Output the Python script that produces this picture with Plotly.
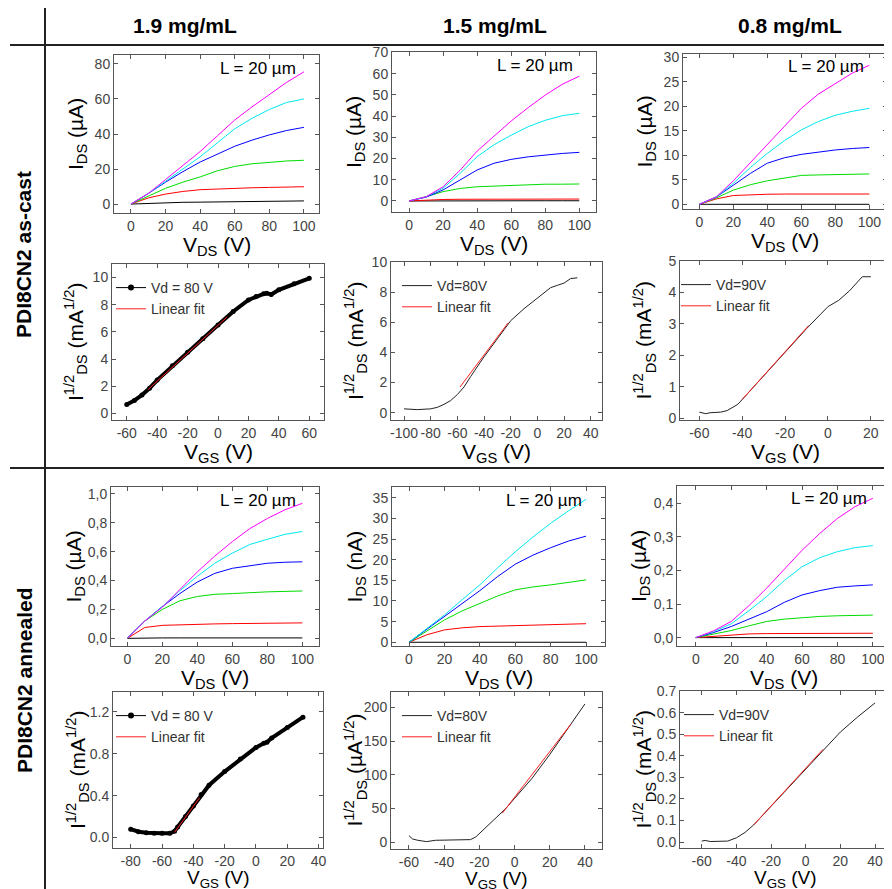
import plotly.graph_objects as go

W, H = 892, 889
OFF = 8  # default page margin of the browser body
FW, FH = W - OFF, H - OFF
FONT = "Arial, 'Liberation Sans', sans-serif"

# ------------------------------------------------------------------ data
col_titles = ["1.9 mg/mL", "1.5 mg/mL", "0.8 mg/mL"]
row_titles = ["PDI8CN2 as-cast", "PDI8CN2 annealed"]
curve_colors_names = ["black", "red", "green", "blue", "cyan", "magenta"]

vds = [0, 10, 20, 30, 40, 50, 60, 70, 80, 90, 100]

# as-cast, 1.9 mg/mL  (uA)
ac19_black = [0, 0.4, 0.8, 1.0, 1.1, 1.2, 1.3, 1.4, 1.5, 1.6, 1.8]
ac19_red = [0, 3.5, 5.7, 7.2, 8.2, 8.7, 9.0, 9.3, 9.5, 9.7, 9.9]
ac19_green = [0, 4.5, 9.0, 12.5, 15.5, 19.0, 21.5, 23.0, 24.0, 24.6, 25.0]
ac19_blue = [0, 6.0, 12.5, 18.5, 24.0, 28.5, 33.0, 36.5, 39.5, 42.0, 43.8]
ac19_cyan = [0, 6.0, 13.0, 20.0, 27.0, 35.0, 43.0, 49.0, 54.0, 58.0, 60.0]
ac19_magenta = [0, 6.0, 14.0, 22.0, 30.0, 39.0, 48.0, 55.5, 62.7, 69.5, 75.5]

# as-cast, 1.5 mg/mL  (uA)
ac15_black = [0, 0.05, 0.1, 0.1, 0.1, 0.1, 0.1, 0.1, 0.1, 0.1, 0.1]
ac15_red = [0, 0.5, 0.7, 0.8, 0.85, 0.85, 0.9, 0.9, 0.9, 0.9, 0.9]
ac15_green = [0, 2.0, 4.4, 5.9, 6.7, 7.0, 7.3, 7.8, 7.9, 7.9, 8.0]
ac15_blue = [0, 1.8, 5.2, 10.0, 14.6, 17.8, 19.6, 20.8, 21.7, 22.4, 22.9]
ac15_cyan = [0, 2.0, 6.0, 13.0, 20.9, 26.5, 31.0, 35.0, 38.0, 40.2, 41.3]
ac15_magenta = [0, 2.0, 6.7, 14.5, 23.5, 30.8, 37.7, 44.0, 49.9, 55.0, 58.8]

# as-cast, 0.8 mg/mL  (uA)
ac08_black = [0, 0, 0, 0, 0, 0, 0, 0, 0, 0, 0]
ac08_red = [0, 1.1, 1.8, 2.0, 2.05, 2.1, 2.1, 2.1, 2.1, 2.1, 2.1]
ac08_green = [0, 1.3, 2.9, 4.0, 4.8, 5.4, 5.9, 6.0, 6.1, 6.1, 6.2]
ac08_blue = [0, 1.5, 3.9, 6.3, 8.4, 9.5, 10.2, 10.7, 11.1, 11.4, 11.6]
ac08_cyan = [0, 1.5, 4.3, 7.5, 10.4, 13.0, 15.2, 16.9, 18.2, 19.0, 19.6]
ac08_magenta = [0, 1.5, 4.8, 8.5, 12.1, 15.9, 19.6, 22.5, 24.7, 26.8, 28.4]

# annealed, 1.9 mg/mL  (uA)
an19_black = [0, 0.003, 0.003, 0.003, 0.003, 0.003, 0.003, 0.003, 0.003, 0.003, 0.003]
an19_red = [0, 0.075, 0.09, 0.095, 0.098, 0.1, 0.102, 0.104, 0.105, 0.106, 0.107]
an19_green = [0, 0.12, 0.2, 0.26, 0.29, 0.305, 0.31, 0.318, 0.322, 0.325, 0.328]
an19_blue = [0, 0.12, 0.22, 0.31, 0.39, 0.45, 0.485, 0.505, 0.52, 0.527, 0.53]
an19_cyan = [0, 0.12, 0.22, 0.33, 0.43, 0.52, 0.59, 0.65, 0.686, 0.72, 0.74]
an19_magenta = [0, 0.12, 0.215, 0.34, 0.46, 0.57, 0.67, 0.76, 0.83, 0.89, 0.935]

# annealed, 1.5 mg/mL  (nA)
an15_black = [0, 0, 0, 0, 0, 0, 0, 0, 0, 0, 0]
an15_red = [0, 1.8, 3.0, 3.5, 3.8, 3.9, 4.0, 4.2, 4.3, 4.4, 4.5]
an15_green = [0, 2.8, 5.4, 7.6, 9.4, 11.2, 12.7, 13.4, 13.9, 14.5, 15.1]
an15_blue = [0, 3.1, 6.2, 9.4, 12.5, 15.9, 18.9, 21.1, 22.9, 24.5, 25.7]
an15_cyan = [0, 3.3, 6.6, 10.3, 13.9, 18.0, 21.9, 25.5, 28.8, 31.8, 34.6]

# annealed, 0.8 mg/mL  (uA)
an08_black = [0, 0, 0, 0, 0, 0, 0, 0, 0, 0, 0]
an08_red = [0, 0.004, 0.008, 0.011, 0.012, 0.012, 0.013, 0.013, 0.013, 0.013, 0.013]
an08_green = [0, 0.01, 0.021, 0.035, 0.048, 0.055, 0.06, 0.063, 0.065, 0.066, 0.067]
an08_blue = [0, 0.015, 0.033, 0.055, 0.077, 0.105, 0.127, 0.14, 0.15, 0.154, 0.157]
an08_cyan = [0, 0.018, 0.041, 0.08, 0.122, 0.17, 0.211, 0.238, 0.256, 0.268, 0.274]
an08_magenta = [0, 0.02, 0.048, 0.095, 0.147, 0.205, 0.26, 0.31, 0.355, 0.39, 0.415]

# transfer curves
tr_ac19_vgs = [-60, -55, -50, -45, -40, -30, -20, -10, 0, 10, 20, 25, 30, 32, 35, 40, 50, 60]
tr_ac19_i = [0.65, 0.95, 1.35, 1.85, 2.45, 3.5, 4.5, 5.5, 6.5, 7.5, 8.35, 8.6, 8.8, 8.85, 8.75, 9.1, 9.55, 9.95]
fit_ac19_vgs = [-46, 6]
fit_ac19_i = [1.75, 7.1]

tr_ac15_vgs = [-100, -90, -80, -75, -70, -65, -60, -55, -50, -40, -30, -20, -10, 0, 5, 10, 15, 20, 25, 30]
tr_ac15_i = [0.25, 0.2, 0.25, 0.35, 0.55, 0.8, 1.2, 1.7, 2.4, 3.7, 4.9, 6.1, 6.9, 7.6, 7.9, 8.3, 8.45, 8.6, 8.9, 8.95]
fit_ac15_vgs = [-58, -22]
fit_ac15_i = [1.7, 5.95]

tr_ac08_vgs = [-60, -57, -55, -50, -47, -45, -42, -40, -30, -20, -10, 0, 5, 10, 15, 16, 20]
tr_ac08_i = [0.2, 0.15, 0.18, 0.2, 0.25, 0.32, 0.45, 0.6, 1.35, 2.1, 2.85, 3.55, 3.75, 4.05, 4.4, 4.5, 4.5]
fit_ac08_vgs = [-40, -9]
fit_ac08_i = [0.6, 2.95]

tr_an19_vgs = [-80, -75, -70, -65, -60, -55, -52, -50, -45, -40, -35, -30, -20, -10, 0, 5, 7, 10, 20, 30]
tr_an19_i = [0.08, 0.055, 0.045, 0.04, 0.04, 0.04, 0.06, 0.1, 0.2, 0.3, 0.41, 0.5, 0.63, 0.75, 0.86, 0.9, 0.91, 0.95, 1.05, 1.15]
fit_an19_vgs = [-52, -36]
fit_an19_i = [0.05, 0.38]

tr_an15_vgs = [-60, -58, -55, -50, -45, -40, -30, -25, -22, -20, -15, -10, -5, 0, 10, 20, 30, 40]
tr_an15_i = [10, 5, 3, 1, 3, 3, 3, 4, 8, 13, 25, 37, 50, 65, 95, 130, 167, 205]
fit_an15_vgs = [-7, 32]
fit_an15_i = [43, 175]

tr_an08_vgs = [-60, -58, -55, -50, -45, -40, -35, -30, -20, -10, 0, 10, 20, 30, 40]
tr_an08_i = [0.005, 0.008, 0.003, 0.003, 0.005, 0.02, 0.045, 0.08, 0.165, 0.25, 0.34, 0.42, 0.51, 0.58, 0.645]
fit_an08_vgs = [-30, 10]
fit_an08_i = [0.08, 0.43]

legend_data_names = ["Vd = 80 V", "Vd=80V", "Vd=90V", "Vd = 80 V", "Vd=80V", "Vd=90V"]
fit_name = "Linear fit"
length_label = "L = 20 µm"

# tick labels
ticks_an19_y = [0, 0.2, 0.4, 0.6, 0.8, 1.0]
ticktext_an19_y = ["0,0", "0,2", "0,4", "0,6", "0,8", "1,0"]
ticks_an08_y = [0, 0.1, 0.2, 0.3, 0.4]
ticktext_an08_y = ["0,0", "0,1", "0,2", "0,3", "0,4"]
ticks_tr_an19_y = [0, 0.4, 0.8, 1.2]
ticktext_tr_an19_y = ["0.0", "0.4", "0.8", "1.2"]
ticks_tr_an08_y = [0, 0.1, 0.2, 0.3, 0.4, 0.5, 0.6, 0.7]
ticktext_tr_an08_y = ["0.0", "0.1", "0.2", "0.3", "0.4", "0.5", "0.6", "0.7"]

# ------------------------------------------------------------------ layout helpers
COLORS = {"black": "#000000", "red": "#ff0000", "green": "#00dd00",
          "blue": "#0000ff", "cyan": "#00e8f0", "magenta": "#ff00ff"}


def px_x(p):
    return (p - OFF) / FW


def px_y(p):
    return 1 - (p - OFF) / FH


def rng_ticks(a, b, s):
    out = []
    v = a
    while v <= b + 1e-9:
        out.append(round(v, 6))
        v += s
    return out


panels = [
    dict(box=(114, 319, 55, 213), xr=[-9.8, 108.7], yr=[-5.1, 85.1],
         xt=rng_ticks(0, 100, 20), yt=rng_ticks(0, 80, 20), kind="out", yunit="(µA)"),
    dict(box=(392, 596, 52, 212), xr=[-10, 109.8], yr=[-5.2, 70.2],
         xt=rng_ticks(0, 100, 20), yt=rng_ticks(0, 70, 10), kind="out", yunit="(µA)"),
    dict(box=(683, 887, 54, 209), xr=[-9.6, 110.4], yr=[-0.96, 30.7],
         xt=rng_ticks(0, 100, 20), yt=rng_ticks(0, 30, 5), kind="out", yunit="(µA)"),
    dict(box=(112, 324, 264, 420), xr=[-69.7, 69.7], yr=[-0.49, 11.0],
         xt=rng_ticks(-60, 60, 20), yt=rng_ticks(0, 10, 2), kind="tr", yunit="(mA<sup>1/2</sup>)"),
    dict(box=(391, 602, 262, 420), xr=[-109.75, 48.5], yr=[-0.49, 10.0],
         xt=rng_ticks(-100, 40, 20), yt=rng_ticks(0, 10, 2), kind="tr", yunit="(mA<sup>1/2</sup>)"),
    dict(box=(680, 891, 261, 420), xr=[-69, 29.4], yr=[-0.05, 5.0],
         xt=rng_ticks(-60, 20, 20), yt=rng_ticks(0, 5, 1), kind="tr", yunit="(mA<sup>1/2</sup>)"),
    dict(box=(111, 319, 487, 646), xr=[-9.3, 109.5], yr=[-0.053, 1.048],
         xt=rng_ticks(0, 100, 20), yt=ticks_an19_y, ytt=ticktext_an19_y, kind="out", yunit="(µA)"),
    dict(box=(392, 605, 487, 646), xr=[-9.6, 110.7], yr=[-0.9, 37.6],
         xt=rng_ticks(0, 100, 20), yt=rng_ticks(0, 35, 5), kind="out", yunit="(nA)"),
    dict(box=(677, 890, 486, 646), xr=[-10.6, 109.7], yr=[-0.025, 0.4515],
         xt=rng_ticks(0, 100, 20), yt=ticks_an08_y, ytt=ticktext_an08_y, kind="out", yunit="(µA)"),
    dict(box=(113, 323, 692, 848), xr=[-91.3, 42.8], yr=[-0.1, 1.39],
         xt=rng_ticks(-80, 40, 20), yt=ticks_tr_an19_y, ytt=ticktext_tr_an19_y, kind="tr", yunit="(mA<sup>1/2</sup>)"),
    dict(box=(391, 602, 692, 849), xr=[-70.2, 49.7], yr=[-9.9, 222.7],
         xt=rng_ticks(-60, 40, 20), yt=rng_ticks(0, 200, 50), kind="tr", yunit="(µA<sup>1/2</sup>)"),
    dict(box=(680, 891, 691, 848), xr=[-72.5, 49.2], yr=[-0.027, 0.7],
         xt=rng_ticks(-60, 40, 20), yt=ticks_tr_an08_y, ytt=ticktext_tr_an08_y, kind="tr", yunit="(mA<sup>1/2</sup>)"),
]

output_sets = {
    1: [ac19_black, ac19_red, ac19_green, ac19_blue, ac19_cyan, ac19_magenta],
    2: [ac15_black, ac15_red, ac15_green, ac15_blue, ac15_cyan, ac15_magenta],
    3: [ac08_black, ac08_red, ac08_green, ac08_blue, ac08_cyan, ac08_magenta],
    7: [an19_black, an19_red, an19_green, an19_blue, an19_cyan, an19_magenta],
    8: [an15_black, an15_red, an15_green, an15_blue, an15_cyan],
    9: [an08_black, an08_red, an08_green, an08_blue, an08_cyan, an08_magenta],
}

transfer_sets = {
    4: (tr_ac19_vgs, tr_ac19_i, fit_ac19_vgs, fit_ac19_i, True),
    5: (tr_ac15_vgs, tr_ac15_i, fit_ac15_vgs, fit_ac15_i, False),
    6: (tr_ac08_vgs, tr_ac08_i, fit_ac08_vgs, fit_ac08_i, False),
    10: (tr_an19_vgs, tr_an19_i, fit_an19_vgs, fit_an19_i, True),
    11: (tr_an15_vgs, tr_an15_i, fit_an15_vgs, fit_an15_i, False),
    12: (tr_an08_vgs, tr_an08_i, fit_an08_vgs, fit_an08_i, False),
}
legend_order = [4, 5, 6, 10, 11, 12]
legend_dx = [-1, 6, -4, -2, 6, -1]

fig = go.Figure()

for idx, series in output_sets.items():
    sfx = "" if idx == 1 else str(idx)
    for name, ys in zip(curve_colors_names, series):
        fig.add_trace(go.Scatter(
            x=vds, y=ys, mode="lines", line=dict(color=COLORS[name], width=1),
            xaxis="x" + sfx, yaxis="y" + sfx, showlegend=False, hoverinfo="skip"))

for k, idx in enumerate(legend_order):
    vg, iv, fx, fy, marked = transfer_sets[idx]
    sfx = str(idx)
    lg = "legend" if k == 0 else "legend" + str(k + 1)
    if marked:
        fig.add_trace(go.Scatter(
            x=vg, y=iv, mode="lines+markers",
            line=dict(color="black", width=4), marker=dict(color="black", size=5),
            xaxis="x" + sfx, yaxis="y" + sfx, showlegend=False, hoverinfo="skip"))
        fig.add_trace(go.Scatter(
            x=[None], y=[None], mode="lines+markers", name=legend_data_names[k],
            line=dict(color="black", width=1), marker=dict(color="black", size=6),
            xaxis="x" + sfx, yaxis="y" + sfx, legend=lg))
    else:
        fig.add_trace(go.Scatter(
            x=vg, y=iv, mode="lines", name=legend_data_names[k],
            line=dict(color="#222222", width=1),
            xaxis="x" + sfx, yaxis="y" + sfx, legend=lg, hoverinfo="skip"))
    fig.add_trace(go.Scatter(
        x=fx, y=fy, mode="lines", name=fit_name,
        line=dict(color="#ff2020", width=1),
        xaxis="x" + sfx, yaxis="y" + sfx, legend=lg, hoverinfo="skip"))

layout = dict(
    width=FW, height=FH,
    margin=dict(l=0, r=0, t=0, b=0),
    paper_bgcolor="white", plot_bgcolor="white",
    font=dict(family=FONT, color="#000"),
    showlegend=True,
)

axis_common = dict(
    showline=True, linecolor="#555", linewidth=1, mirror="ticks",
    ticks="inside", ticklen=4, tickcolor="#555", tickwidth=1,
    tickfont=dict(family=FONT, size=14, color="#444"),
    showgrid=False, zeroline=False, fixedrange=True, automargin=False,
)

annotations = []
for i, p in enumerate(panels, start=1):
    l, r, t, b = p["box"]
    sfx = "" if i == 1 else str(i)
    xa = dict(axis_common, domain=[px_x(l), px_x(r)], range=p["xr"],
              tickmode="array", tickvals=p["xt"],
              ticktext=[str(v) if v >= 0 else "-" + str(-v) for v in p["xt"]],
              anchor="y" + sfx)
    ya = dict(axis_common, domain=[px_y(b), px_y(t)], range=p["yr"],
              tickmode="array", tickvals=p["yt"],
              ticktext=p.get("ytt", [str(v) for v in p["yt"]]),
              anchor="x" + sfx)
    layout["xaxis" + sfx] = xa
    layout["yaxis" + sfx] = ya

    xlab = "V<sub>DS</sub> (V)" if p["kind"] == "out" else "V<sub>GS</sub> (V)"
    if p["kind"] == "out":
        ylab = "I<sub>DS</sub> " + p["yunit"]
        yoff = 37
    else:
        ylab = "I<sup>1/2</sup><sub>DS</sub> " + p["yunit"]
        yoff = 36
    bottom_row = i >= 10
    xt_off = 31 if bottom_row else 33
    xt_size = 19 if bottom_row else 21
    annotations.append(dict(
        text=xlab, xref="paper", yref="paper",
        x=px_x((l + r) / 2), y=px_y(b + xt_off), xanchor="center", yanchor="middle",
        showarrow=False, font=dict(family=FONT, size=xt_size, color="#000")))
    annotations.append(dict(
        text=ylab, xref="paper", yref="paper", textangle=-90,
        x=px_x(l - yoff), y=px_y((t + b) / 2), xanchor="center", yanchor="middle",
        showarrow=False, font=dict(family=FONT, size=21, color="#000")))
    if p["kind"] == "out":
        annotations.append(dict(
            text=length_label, xref="paper", yref="paper",
            x=px_x(r - 21), y=px_y(t + 13), xanchor="right", yanchor="middle",
            showarrow=False, font=dict(family=FONT, size=17, color="#000")))

for cx, txt in zip([185, 495, 790], col_titles):
    annotations.append(dict(
        text="<b>" + txt + "</b>", xref="paper", yref="paper",
        x=px_x(cx), y=px_y(25), xanchor="center", yanchor="middle",
        showarrow=False, font=dict(family=FONT, size=21, color="#000")))
for cy, txt in zip([255, 680], row_titles):
    annotations.append(dict(
        text="<b>" + txt + "</b>", xref="paper", yref="paper", textangle=-90,
        x=px_x(24), y=px_y(cy), xanchor="center", yanchor="middle",
        showarrow=False, font=dict(family=FONT, size=21, color="#000")))

layout["annotations"] = annotations

for k, idx in enumerate(legend_order):
    l, r, t, b = panels[idx - 1]["box"]
    key = "legend" if k == 0 else "legend" + str(k + 1)
    layout[key] = dict(
        x=px_x(l + legend_dx[k]), y=px_y(t + 8), xanchor="left", yanchor="top",
        xref="paper", yref="paper",
        bgcolor="rgba(0,0,0,0)", borderwidth=0,
        font=dict(family=FONT, size=14, color="#333"),
        itemwidth=30, tracegroupgap=0, itemclick=False, itemdoubleclick=False)

layout["shapes"] = [
    dict(type="line", xref="paper", yref="paper", x0=px_x(10), x1=1,
         y0=px_y(45), y1=px_y(45), line=dict(color="#222", width=2)),
    dict(type="line", xref="paper", yref="paper", x0=px_x(10), x1=1,
         y0=px_y(468), y1=px_y(468), line=dict(color="#222", width=2)),
    dict(type="line", xref="paper", yref="paper", x0=px_x(45), x1=px_x(45),
         y0=0, y1=1, line=dict(color="#222", width=2)),
]

fig.update_layout(**layout)
fig.write_html("out.html")
